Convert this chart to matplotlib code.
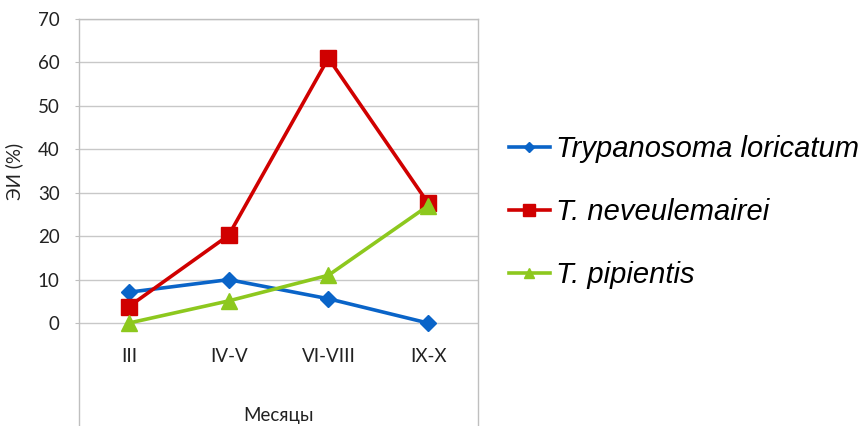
import matplotlib
matplotlib.use("Agg")
import matplotlib.pyplot as plt

# Seasonal extensiveness of infection (ЭИ, %) by month group
months = ["III", "IV-V", "VI-VIII", "IX-X"]
t_loricatum = [7.1, 10.0, 5.6, 0.0]
t_neveulemairei = [3.8, 20.2, 61.0, 27.6]
t_pipientis = [0.0, 5.1, 11.0, 27.0]
series_names = ["Trypanosoma loricatum", "T. neveulemairei", "T. pipientis"]
y_ticks = [0, 10, 20, 30, 40, 50, 60, 70]

fig = plt.figure(figsize=(8.61, 4.26), dpi=100)
W, H = 861, 426
left_px, right_px, top_px, bottom_px = 79, 478, 19, 436
ax = fig.add_axes([left_px / W, 1 - bottom_px / H,
                   (right_px - left_px) / W, (bottom_px - top_px) / H])

x = list(range(len(months)))
ax.plot(x, t_loricatum, color="#0A64C8", lw=2.6, marker="D", ms=8,
        label=series_names[0], zorder=3)
ax.plot(x, t_neveulemairei, color="#D00000", lw=2.6, marker="s", ms=12,
        label=series_names[1], zorder=4)
ax.plot(x, t_pipientis, color="#8DC81E", lw=2.6, marker="^", ms=11,
        label=series_names[2], zorder=5)

ax.set_xlim(-0.5, len(months) - 0.5)
ax.set_ylim(-26.0, 70)
ax.set_yticks(y_ticks)
ax.set_xticks([])
ax.yaxis.grid(True, color="#C8C8C8", lw=1.0)
ax.set_axisbelow(True)

tick_font = dict(family=["Lato", "DejaVu Sans"], size=13.5, color="#222222")
ax.set_yticklabels([str(v) for v in y_ticks], **tick_font)
ax.tick_params(axis="y", length=3, color="#BFBFBF", pad=11)

for side in ("left", "right", "top"):
    ax.spines[side].set_color("#BFBFBF")
    ax.spines[side].set_linewidth(1.0)
ax.spines["bottom"].set_visible(False)

for i, m in enumerate(months):
    ax.text(i, -7.8, m, ha="center", va="center", **tick_font)
ax.text((len(months) - 1) / 2, -21.2, "Месяцы", ha="center", va="center",
        **tick_font)

ax.set_ylabel("ЭИ (%)", family=["Lato", "DejaVu Sans"], size=13.5,
              color="#222222")
ax.yaxis.set_label_coords(-0.14, 0.635)

fig.legend(loc="upper left", bbox_to_anchor=(509 / W, 1 - 135 / H),
           frameon=False,
           prop=dict(family="Liberation Sans", style="italic", size=21),
           handlelength=1.4, handletextpad=0.2, labelspacing=1.2,
           borderpad=0, borderaxespad=0, markerscale=0.7)

fig.savefig("out.png", dpi=100)
